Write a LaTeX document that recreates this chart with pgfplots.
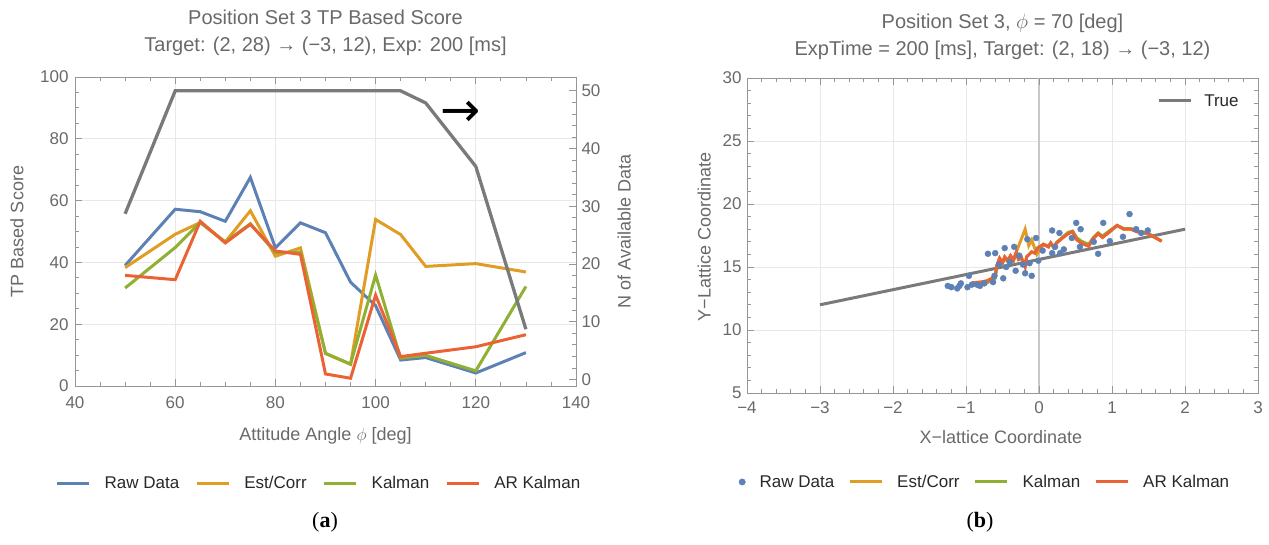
\documentclass[border=0pt]{standalone}
\usepackage{pgfplots}
\pgfplotsset{compat=1.18}
\usepackage{pgfplotstable}
\usepackage{fontspec}
\setmainfont{Liberation Sans}
\newfontfamily\seriffont{Liberation Serif}
\newfontfamily\arrowfont{DejaVu Sans}

\definecolor{rawblue}{RGB}{94,129,181}
\definecolor{estorange}{RGB}{225,156,36}
\definecolor{kalgreen}{RGB}{143,176,50}
\definecolor{arred}{RGB}{235,98,53}
\definecolor{ngray}{RGB}{122,122,122}
\definecolor{gridgray}{RGB}{232,232,232}
\definecolor{zerogray}{RGB}{200,200,200}
\definecolor{framegray}{RGB}{150,150,150}
\definecolor{labgray}{RGB}{105,105,105}
\definecolor{legtext}{RGB}{40,40,40}

\pgfplotstableread{
x raw est kal ar
50 39.0 38.3 31.7 35.8
60 57.2 49.1 44.8 34.4
65 56.4 52.9 52.9 53.3
70 53.3 46.6 46.6 46.3
75 67.5 56.7 52.5 52.3
80 44.7 42.0 43.2 43.7
85 52.8 44.7 43.3 42.6
90 49.6 10.5 10.6 3.9
95 33.6 7.0 7.1 2.5
100 26.0 53.9 35.9 29.4
105 8.4 49.0 9.0 9.5
110 9.2 38.7 9.9 10.6
120 4.2 39.6 4.9 12.7
130 10.8 36.9 32.2 16.6
}\scoretab

\pgfplotstableread{
x n
50 28.7
60 50
65 50
70 50
75 50
80 50
85 50
90 50
95 50
100 50
105 50
110 47.9
120 36.9
130 8.7
}\ntab

\pgfplotstableread{
x y
-1.25 13.5
-1.20 13.4
-1.12 13.3
-1.09 13.5
-1.07 13.7
-0.98 13.4
-0.96 14.3
-0.92 13.6
-0.85 13.6
-0.81 13.5
-0.75 13.7
-0.70 16.05
-0.63 13.8
-0.61 14.3
-0.60 16.1
-0.55 15.2
-0.49 14.1
-0.47 16.5
-0.45 15.0
-0.40 15.4
-0.34 16.6
-0.32 14.7
-0.27 15.9
-0.22 15.2
-0.19 14.5
-0.16 17.2
-0.13 15.3
-0.10 14.3
-0.04 17.3
-0.01 15.5
0.05 16.3
0.18 17.9
0.18 16.1
0.22 16.6
0.28 17.7
0.29 16.1
0.34 16.4
0.45 17.3
0.51 18.5
0.56 16.6
0.57 18.0
0.75 17.0
0.81 16.05
0.88 18.5
0.97 17.05
1.15 17.4
1.24 19.2
1.33 18.0
1.40 17.7
1.49 17.9
}\rawtab

\pgfplotstableread{
x y
-0.91 13.75
-0.80 13.8
-0.71 13.9
-0.60 14.25
-0.58 15.05
-0.54 15.7
-0.50 15.35
-0.47 15.8
-0.43 15.5
-0.39 15.9
-0.35 15.55
-0.31 16.2
-0.28 15.6
-0.24 15.7
-0.19 15.0
-0.17 15.8
-0.10 16.2
-0.055 16.1
-0.02 16.5
0.06 16.8
0.13 16.6
0.16 16.9
0.20 16.55
0.24 16.9
0.31 17.25
0.40 17.65
0.46 17.8
0.52 17.15
0.58 16.9
0.68 16.65
0.74 17.25
0.81 17.65
0.87 17.35
0.97 17.8
1.07 18.3
1.16 18.0
1.26 18.0
1.34 17.8
1.49 17.65
1.57 17.4
1.68 17.05
}\artab

\pgfplotstableread{
x y
-0.91 13.6
-0.80 13.65
-0.71 13.75
-0.60 14.1
-0.58 15.0
-0.54 15.6
-0.50 15.3
-0.47 15.7
-0.43 15.45
-0.39 15.85
-0.35 15.5
-0.31 16.1
-0.28 15.6
-0.24 15.75
-0.19 15.1
-0.17 15.8
-0.10 16.2
-0.055 16.1
-0.02 16.5
0.06 16.8
0.13 16.65
0.16 16.9
0.20 16.6
0.24 16.95
0.31 17.3
0.40 17.75
0.46 17.85
0.52 17.3
0.58 17.05
0.68 16.8
0.74 17.3
0.81 17.7
0.87 17.45
0.97 17.9
1.07 18.3
1.16 18.05
1.26 18.05
1.34 17.85
1.49 17.7
1.57 17.4
1.68 17.05
}\kaltab

\pgfplotstableread{
x y
-0.91 13.75
-0.80 13.8
-0.71 13.9
-0.60 14.25
-0.58 15.05
-0.54 15.7
-0.50 15.35
-0.47 15.8
-0.43 15.5
-0.39 15.9
-0.35 15.55
-0.31 16.2
-0.29 16.5
-0.19 18.0
-0.14 16.7
-0.10 17.15
-0.03 16.0
0.06 16.8
0.13 16.6
0.16 16.9
0.20 16.55
0.24 16.9
0.31 17.25
0.40 17.65
0.46 17.8
0.52 17.15
0.58 16.9
0.68 16.65
0.74 17.25
0.81 17.65
0.87 17.35
0.97 17.8
1.07 18.3
1.16 18.0
1.26 18.0
1.34 17.8
1.49 17.65
1.57 17.4
1.68 17.05
}\esttab

\pgfplotstableread{
x y
-3 12
2 18
}\truetab

\pgfplotsset{
  myframe/.style={
    scale only axis,
    anchor=south west,
    tick align=inside,
    major tick length=7pt,
    minor tick length=4pt,
    axis line style={draw=framegray, line width=0.9pt},
    every tick/.style={draw=framegray, line width=0.8pt},
    major grid style={draw=gridgray, line width=0.9pt},
    tick label style={font=\fontsize{17}{20}\selectfont, text=labgray},
    /pgf/number format/assume math mode=true,
    label style={font=\fontsize{18}{21}\selectfont, text=labgray},
    title style={font=\fontsize{20}{27}\selectfont, text=labgray, align=center},
    legend image code/.code={\draw[#1] (0pt,0pt) -- (32pt,0pt);},
  },
}

\begin{document}
\begin{tikzpicture}
\useasboundingbox (0pt,0pt) rectangle (1269pt,545pt);

% ---------- (a) left chart: scores ----------
\begin{axis}[
  myframe,
  at={(75pt,159pt)}, width=501pt, height=309pt,
  xmin=40, xmax=140, ymin=0, ymax=100,
  xtick={40,60,...,140}, ytick={0,20,...,100},
  minor x tick num=3, minor y tick num=3,
  xtick pos=both, ytick pos=left,
  xticklabel style={yshift=-7pt},
  yticklabel style={xshift=-3pt},
  grid=major,
  xlabel={Attitude Angle $\phi$ [deg]},
  ylabel={TP Based Score},
  xlabel style={at={(axis description cs:0.5,-0.162)}, anchor=center},
  ylabel style={at={(axis description cs:-0.116,0.5)}, anchor=center},
  title={Position Set 3 TP Based Score\\Target: (2, 28) → (−3, 12), Exp: 200 [ms]},
  title style={at={(axis description cs:0.5,1.124)}, anchor=center},
  legend columns=4,
  legend style={at={(axis description cs:0.493,-0.314)}, anchor=center, draw=none, fill=none,
    font=\fontsize{17}{20}\selectfont, text=legtext,
    nodes={inner sep=8pt},
    /tikz/every odd column/.append style={column sep=6pt},
    /tikz/every even column/.append style={column sep=8pt}},
]
\addplot[rawblue, line width=3pt] table[x=x, y=raw] {\scoretab};
\addlegendentry{Raw Data}
\addplot[estorange, line width=3pt] table[x=x, y=est] {\scoretab};
\addlegendentry{Est/Corr}
\addplot[kalgreen, line width=3pt] table[x=x, y=kal] {\scoretab};
\addlegendentry{Kalman}
\addplot[arred, line width=3pt] table[x=x, y=ar] {\scoretab};
\addlegendentry{AR Kalman}
\end{axis}

\begin{axis}[
  myframe,
  at={(75pt,159pt)}, width=501pt, height=309pt,
  xmin=40, xmax=140, ymin=-1.13, ymax=52.4,
  hide x axis,
  axis y line*=right,
  ytick={0,10,...,50}, minor y tick num=4,
  yticklabel style={xshift=2pt},
  ylabel={N of Available Data},
  ylabel style={at={(axis description cs:1.096,0.5)}, anchor=center},
]
\addplot[ngray, line width=3.3pt] table[x=x, y=n] {\ntab};
\node[font=\arrowfont\fontsize{48}{48}\selectfont, text=black] at (axis cs:117,46) {→};
\end{axis}

\node[font=\seriffont\fontsize{22}{24}\selectfont] at (325pt,23pt) {(\textbf{a})};

% ---------- (b) right chart: trajectory ----------
\begin{axis}[
  myframe,
  at={(747pt,152pt)}, width=511pt, height=315pt,
  xmin=-4, xmax=3, ymin=5, ymax=30,
  xtick={-4,...,3}, xticklabels={−4,−3,−2,−1,0,1,2,3},
  ytick={5,10,...,30},
  minor x tick num=4, minor y tick num=4,
  xtick pos=both, ytick pos=both,
  xticklabel style={yshift=-5pt},
  yticklabel style={xshift=-2pt},
  grid=major,
  extra x ticks={0}, extra x tick labels={},
  extra x tick style={major grid style={draw=zerogray, line width=1.2pt}},
  xlabel={X−lattice Coordinate},
  ylabel={Y−Lattice Coordinate},
  xlabel style={at={(axis description cs:0.497,-0.14)}, anchor=center},
  ylabel style={at={(axis description cs:-0.084,0.495)}, anchor=center},
  title={Position Set 3, $\phi$ = 70 [deg]\\ExpTime = 200 [ms], Target: (2, 18) → (−3, 12)},
  title style={at={(axis description cs:0.5,1.113)}, anchor=center},
  legend style={at={(axis description cs:0.984,0.927)}, anchor=east, draw=none, fill=none,
    font=\fontsize{17}{20}\selectfont, text=legtext, nodes={inner sep=8pt},
    /tikz/every odd column/.append style={column sep=4pt}},
]
\addplot[ngray, line width=3pt] table[x=x, y=y] {\truetab};
\addlegendentry{True}
\end{axis}

\begin{axis}[
  myframe,
  at={(747pt,152pt)}, width=511pt, height=315pt,
  xmin=-4, xmax=3, ymin=5, ymax=30,
  hide axis,
  legend columns=4,
  legend style={at={(axis description cs:0.4716,-0.2825)}, anchor=center, draw=none, fill=none,
    font=\fontsize{17}{20}\selectfont, text=legtext,
    nodes={inner sep=8pt},
    /tikz/every odd column/.append style={column sep=6pt},
    /tikz/every even column/.append style={column sep=6pt}},
]
\addplot[only marks, mark=*, mark size=3pt, rawblue,
  legend image code/.code={\fill[rawblue] (16pt,0pt) circle (3.2pt);}] table[x=x, y=y] {\rawtab};
\addlegendentry{Raw Data}
\addplot[estorange, line width=3pt] table[x=x, y=y] {\esttab};
\addlegendentry{Est/Corr}
\addplot[kalgreen, line width=3pt] table[x=x, y=y] {\kaltab};
\addlegendentry{Kalman}
\addplot[arred, line width=3pt] table[x=x, y=y] {\artab};
\addlegendentry{AR Kalman}
\end{axis}

\node[font=\seriffont\fontsize{22}{24}\selectfont] at (980pt,23pt) {(\textbf{b})};
\end{tikzpicture}
\end{document}
